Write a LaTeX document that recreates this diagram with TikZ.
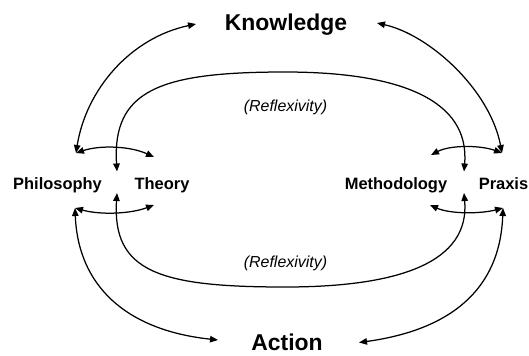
\documentclass[tikz,border=0pt]{standalone}
\usepackage{fontspec}
\setmainfont{Liberation Sans}
\usetikzlibrary{arrows.meta}
\begin{document}
\begin{tikzpicture}[x=1bp,y=-1bp,
  tip/.tip={Triangle[length=8bp,width=6.5bp]},
  link/.style={line width=1.25bp,{tip}-{tip}},
  big/.style={font=\bfseries\fontsize{23}{26}\selectfont,inner sep=0pt,anchor=base},
  lab/.style={font=\bfseries\fontsize{16.5}{19}\selectfont,inner sep=0pt,anchor=base},
  refl/.style={font=\itshape\fontsize{16}{19}\selectfont,inner sep=0pt,anchor=base}]
\path[use as bounding box] (0,0) rectangle (529,355);

% concept labels
\node[big] (know) at (286,30) {Knowledge};
\node[big] (act) at (287,350.5) {Action};
\node[lab] (phil) at (57.5,189) {Philosophy};
\node[lab] (theo) at (162,189) {Theory};
\node[lab] (meth) at (396,189) {Methodology};
\node[lab] (prax) at (503.5,189) {Praxis};
\node[refl] (reflT) at (285.5,111) {(Reflexivity)};
\node[refl] (reflB) at (285.5,267) {(Reflexivity)};

% connector ends
\coordinate (know-w) at (196,24);
\coordinate (know-e) at (377,23);
\coordinate (act-w) at (218,340);
\coordinate (act-e) at (359,342.5);
\coordinate (phil-n) at (76,153);
\coordinate (phil-s) at (75,208);
\coordinate (theo-n) at (154,157);
\coordinate (theo-s) at (154,205);
\coordinate (theo-nn) at (117,171.5);
\coordinate (theo-ss) at (117,193);
\coordinate (meth-n) at (431,155);
\coordinate (meth-s) at (430,205);
\coordinate (meth-nn) at (464,171.5);
\coordinate (meth-ss) at (464,193);
\coordinate (prax-n) at (502,153);
\coordinate (prax-s) at (503,208);

% outer links to Knowledge and Action
\draw[link] (know-w) .. controls (130,38) and (86,90) .. (phil-n);
\draw[link] (know-e) .. controls (430,35) and (490,90) .. (prax-n);
\draw[link] (phil-s) .. controls (78,285) and (125,330) .. (act-w);
\draw[link] (prax-s) .. controls (500,290) and (450,330) .. (act-e);

% short links between neighbours
\draw[link] (phil-n) .. controls (100,145) and (130,146) .. (theo-n);
\draw[link] (phil-s) .. controls (100,215) and (130,214) .. (theo-s);
\draw[link] (meth-n) .. controls (450,145) and (480,145) .. (prax-n);
\draw[link] (meth-s) .. controls (450,214) and (480,214) .. (prax-s);

% reflexivity loops
\draw[link] (theo-nn) .. controls (112,90) and (160,72) .. (285,72)
  .. controls (400,72) and (470,100) .. (meth-nn);
\draw[link] (theo-ss) .. controls (112,272) and (160,287) .. (285,287)
  .. controls (400,287) and (470,262) .. (meth-ss);
\end{tikzpicture}
\end{document}
